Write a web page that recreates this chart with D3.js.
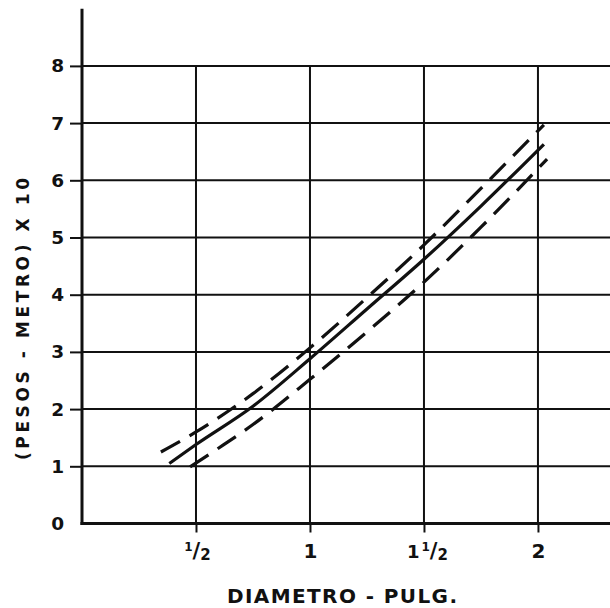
<!DOCTYPE html>
<html>
<head>
<meta charset="utf-8">
<script src="https://cdn.jsdelivr.net/npm/d3@7"></script>
<style>
  html, body { margin: 0; padding: 0; background: #fff; }
  svg { display: block; }
  text { font-family: "DejaVu Sans", "Liberation Sans", sans-serif; font-weight: bold; fill: #111; }
</style>
</head>
<body>
<svg id="chart" width="610" height="608"></svg>
<script>
// Diameter (inches) and cost per metre (pesos, x10)
const yTicks = [0, 1, 2, 3, 4, 5, 6, 7, 8];
const xTicks = [0.5, 1, 1.5, 2];
const xTickLabels = ["½", "1", "1½", "2"];

// Upper bound (dashed)
const upperX = [0.346, 0.5, 0.75, 1.0, 1.25, 1.5, 1.75, 2.026];
const upperY = [1.25, 1.60, 2.27, 3.07, 3.95, 4.87, 5.86, 6.97];
// Mean curve (solid)
const meanX = [0.383, 0.5, 0.75, 1.0, 1.25, 1.5, 1.75, 2.026];
const meanY = [1.05, 1.38, 2.05, 2.88, 3.75, 4.62, 5.55, 6.63];
// Lower bound (dashed)
const lowerX = [0.474, 0.6, 0.75, 1.0, 1.25, 1.5, 1.75, 2.04];
const lowerY = [0.99, 1.32, 1.73, 2.52, 3.35, 4.22, 5.18, 6.37];

const xTitle = "DIAMETRO - PULG.";
const yTitle = "(PESOS - METRO) X 10";

const svg = d3.select("#chart");
const ink = "#111";
const fontStack = "'DejaVu Sans', 'Liberation Sans', sans-serif";

const x = d3.scaleLinear().domain([0, 2.316]).range([82, 610]);
const y = d3.scaleLinear().domain([0, 9]).range([523.5, 8.7]);

// Horizontal grid
svg.append("g").selectAll("line")
  .data(yTicks.filter(d => d > 0))
  .join("line")
  .attr("x1", x(0)).attr("x2", x(2.316))
  .attr("y1", d => y(d)).attr("y2", d => y(d))
  .attr("stroke", ink).attr("stroke-width", 2);

// Vertical grid
svg.append("g").selectAll("line")
  .data(xTicks)
  .join("line")
  .attr("x1", d => x(d)).attr("x2", d => x(d))
  .attr("y1", y(8)).attr("y2", y(0))
  .attr("stroke", ink).attr("stroke-width", 2);

// Y axis
const yAxis = d3.axisLeft(y).tickValues(yTicks).tickSize(12).tickPadding(6)
  .tickFormat(d3.format("d"));
const gy = svg.append("g").attr("transform", `translate(${x(0)},0)`).call(yAxis);
gy.select(".domain").remove();
gy.selectAll(".tick line").attr("stroke", ink).attr("stroke-width", 2)
  .filter(d => d === 0).remove();
gy.selectAll(".tick text")
  .attr("fill", ink)
  .style("font-family", fontStack).style("font-weight", "bold").style("font-size", "18.5px");
svg.append("line")
  .attr("x1", x(0)).attr("x2", x(0))
  .attr("y1", y(9)).attr("y2", y(0) + 1.5)
  .attr("stroke", ink).attr("stroke-width", 3);

// X axis
const xAxis = d3.axisBottom(x).tickValues(xTicks).tickSize(9)
  .tickFormat((d, i) => xTickLabels[i]);
const gx = svg.append("g").attr("transform", `translate(0,${y(0)})`).call(xAxis);
gx.select(".domain").remove();
gx.selectAll(".tick line").attr("stroke", ink).attr("stroke-width", 2);

// Tick labels: halves are set as a hand-lettered fraction (small 1, slash, 2)
gx.selectAll(".tick text").each(function(d, i) {
  const label = xTickLabels[i];
  const t = d3.select(this)
    .attr("fill", ink)
    .style("font-family", fontStack).style("font-weight", "bold").style("font-size", "20px")
    .attr("y", 34).attr("dy", 0).text(null);
  if (label.endsWith("½")) {
    const whole = label.slice(0, -1);
    if (whole) t.append("tspan").style("font-size", "18px").text(whole);
    t.append("tspan").style("font-size", "12px").attr("dy", -7).attr("dx", whole ? 2 : 0).text("1");
    t.append("tspan").style("font-size", "21px").attr("dy", 7).text("/");
    t.append("tspan").style("font-size", "15px").attr("dy", 2).text("2");
    t.attr("x", whole ? 3 : 1);
  } else {
    t.text(label);
  }
});
svg.append("line")
  .attr("x1", x(0) - 1.5).attr("x2", x(2.316))
  .attr("y1", y(0)).attr("y2", y(0))
  .attr("stroke", ink).attr("stroke-width", 3);

// Curves
const line = d3.line().x(d => x(d[0])).y(d => y(d[1])).curve(d3.curveMonotoneX);
const series = [
  { xs: upperX, ys: upperY, dash: "22,11" },
  { xs: meanX, ys: meanY, dash: null },
  { xs: lowerX, ys: lowerY, dash: "22,11" }
];
svg.append("g").selectAll("path")
  .data(series)
  .join("path")
  .attr("d", s => line(s.xs.map((v, i) => [v, s.ys[i]])))
  .attr("fill", "none")
  .attr("stroke", ink)
  .attr("stroke-width", 3.2)
  .attr("stroke-dasharray", s => s.dash);

// Titles
svg.append("text")
  .attr("x", 227).attr("y", 603)
  .attr("font-size", 20)
  .attr("textLength", 230).attr("lengthAdjust", "spacing")
  .text(xTitle);

svg.append("text")
  .attr("transform", "translate(29,460) rotate(-90)")
  .attr("font-size", 17)
  .attr("textLength", 282).attr("lengthAdjust", "spacing")
  .text(yTitle);
</script>
</body>
</html>
